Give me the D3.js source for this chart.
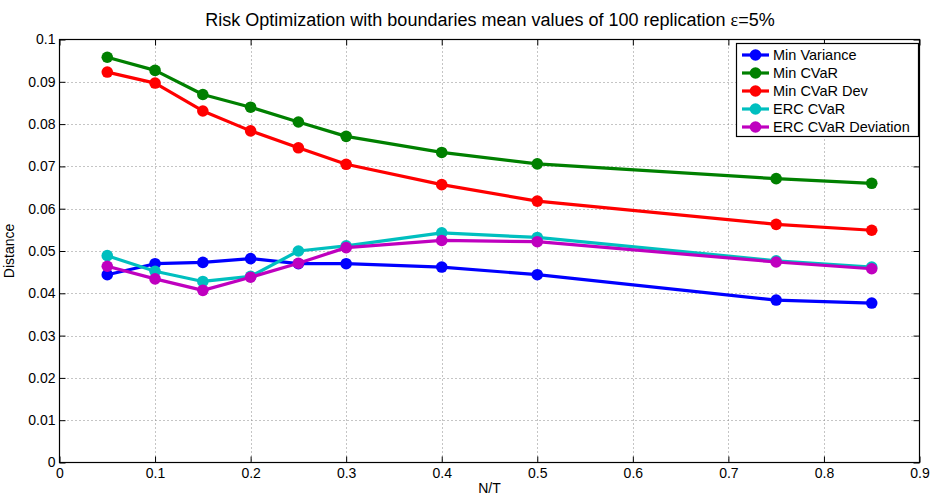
<!DOCTYPE html>
<html>
<head>
<meta charset="utf-8">
<script src="https://cdn.jsdelivr.net/npm/d3@7"></script>
<style>
  html, body { margin: 0; padding: 0; background: #fff; }
  svg text { font-family: "Liberation Sans", Arial, Helvetica, sans-serif; fill: #000; }
</style>
</head>
<body>
<svg id="chart" width="933" height="497"></svg>
<script>
// N/T ratios at which each method was evaluated
const ratios = [0.05, 0.1, 0.15, 0.2, 0.25, 0.3, 0.4, 0.5, 0.75, 0.85];

// Mean distance per method (100 replications)
const minVariance   = [0.0444, 0.0470, 0.0473, 0.0482, 0.0470, 0.0470, 0.0462, 0.0444, 0.0384, 0.0377];
const minCVaR       = [0.0958, 0.0927, 0.0870, 0.0840, 0.0805, 0.0771, 0.0733, 0.0706, 0.0671, 0.0660];
const minCVaRDev    = [0.0923, 0.0897, 0.0831, 0.0784, 0.0744, 0.0705, 0.0657, 0.0618, 0.0563, 0.0549];
const ercCVaR       = [0.0489, 0.0452, 0.0428, 0.0440, 0.0500, 0.0512, 0.0543, 0.0532, 0.0477, 0.0462];
const ercCVaRDev    = [0.0464, 0.0434, 0.0407, 0.0438, 0.0471, 0.0508, 0.0525, 0.0522, 0.0474, 0.0458];

const seriesNames  = ["Min Variance", "Min CVaR", "Min CVaR Dev", "ERC CVaR", "ERC CVaR Deviation"];
const seriesValues = [minVariance, minCVaR, minCVaRDev, ercCVaR, ercCVaRDev];
const seriesColors = ["#0000ff", "#008000", "#ff0000", "#00bfbf", "#bf00bf"];

const xTicks = [0, 0.1, 0.2, 0.3, 0.4, 0.5, 0.6, 0.7, 0.8, 0.9];
const yTicks = [0, 0.01, 0.02, 0.03, 0.04, 0.05, 0.06, 0.07, 0.08, 0.09, 0.1];

const svg = d3.select("#chart");
const plotLeft = 59.5, plotRight = 919.5, plotTop = 39.5, plotBottom = 462.5;

const x = d3.scaleLinear().domain([0, 0.9]).range([plotLeft, plotRight]);
const y = d3.scaleLinear().domain([0, 0.1]).range([plotBottom, plotTop]);

// dotted grid
const grid = svg.append("g");
grid.selectAll("line.gx").data(xTicks.slice(1, -1)).enter().append("line")
  .attr("x1", d => Math.round(x(d)) + 0.5).attr("x2", d => Math.round(x(d)) + 0.5)
  .attr("y1", plotTop).attr("y2", plotBottom)
  .attr("stroke", "#8a8a8a").attr("stroke-width", 1).attr("stroke-dasharray", "1,3");
grid.selectAll("line.gy").data(yTicks.slice(1, -1)).enter().append("line")
  .attr("y1", d => Math.round(y(d)) + 0.5).attr("y2", d => Math.round(y(d)) + 0.5)
  .attr("x1", plotLeft).attr("x2", plotRight)
  .attr("stroke", "#8a8a8a").attr("stroke-width", 1).attr("stroke-dasharray", "1,3");

// axes with inward ticks on all four sides
const fmt = d => d3.format("~g")(d);
function styleAxis(g) {
  g.select(".domain").remove();
  g.selectAll(".tick line").attr("stroke", "#000");
  g.selectAll(".tick text").style("font-size", "14px").attr("fill", "#000");
}
svg.append("g").attr("transform", `translate(0,${plotBottom})`)
  .call(d3.axisBottom(x).tickValues(xTicks).tickFormat(fmt).tickSizeInner(-6).tickSizeOuter(0).tickPadding(6))
  .call(styleAxis);
svg.append("g").attr("transform", `translate(0,${plotTop})`)
  .call(d3.axisTop(x).tickValues(xTicks).tickFormat("").tickSizeInner(-6).tickSizeOuter(0))
  .call(styleAxis);
svg.append("g").attr("transform", `translate(${plotLeft},0)`)
  .call(d3.axisLeft(y).tickValues(yTicks).tickFormat(fmt).tickSizeInner(-6).tickSizeOuter(0).tickPadding(4))
  .call(styleAxis);
svg.append("g").attr("transform", `translate(${plotRight},0)`)
  .call(d3.axisRight(y).tickValues(yTicks).tickFormat("").tickSizeInner(-6).tickSizeOuter(0))
  .call(styleAxis);

// frame
svg.append("rect").attr("x", plotLeft).attr("y", plotTop)
  .attr("width", plotRight - plotLeft).attr("height", plotBottom - plotTop)
  .attr("fill", "none").attr("stroke", "#000").attr("stroke-width", 1.2);

// series lines with markers
const line = d3.line().x((d, i) => x(ratios[i])).y(d => y(d));
seriesValues.forEach((vals, k) => {
  const g = svg.append("g");
  g.append("path").datum(vals).attr("d", line)
    .attr("fill", "none").attr("stroke", seriesColors[k]).attr("stroke-width", 3.2)
    .attr("stroke-linejoin", "round");
  g.selectAll("circle").data(vals).enter().append("circle")
    .attr("cx", (d, i) => x(ratios[i])).attr("cy", d => y(d)).attr("r", 5.8)
    .attr("fill", seriesColors[k]);
});

// legend
const lg = svg.append("g");
lg.append("rect").attr("x", 736.5).attr("y", 43.5).attr("width", 182).attr("height", 93)
  .attr("fill", "#fff").attr("stroke", "#000").attr("stroke-width", 1.2);
seriesNames.forEach((name, k) => {
  const yy = 55 + k * 18;
  lg.append("line").attr("x1", 742).attr("x2", 769).attr("y1", yy).attr("y2", yy)
    .attr("stroke", seriesColors[k]).attr("stroke-width", 3.2);
  lg.append("circle").attr("cx", 755.5).attr("cy", yy).attr("r", 5.8).attr("fill", seriesColors[k]);
  lg.append("text").attr("x", 773).attr("y", yy + 5).style("font-size", "14.5px").text(name);
});

// title and axis labels
const title = svg.append("text").attr("x", 490).attr("y", 26).attr("text-anchor", "middle")
  .style("font-size", "18px");
title.append("tspan").text("Risk Optimization with boundaries mean values of 100 replication ");
title.append("tspan").style("font-family", "'Liberation Serif', 'DejaVu Serif', serif").text("ε");
title.append("tspan").text("=5%");

svg.append("text").attr("x", (plotLeft + plotRight) / 2).attr("y", 493).attr("text-anchor", "middle")
  .style("font-size", "14px").text("N/T");
svg.append("text").attr("transform", `translate(14,${(plotTop + plotBottom) / 2}) rotate(-90)`)
  .attr("text-anchor", "middle").style("font-size", "14px").text("Distance");
</script>
</body>
</html>
